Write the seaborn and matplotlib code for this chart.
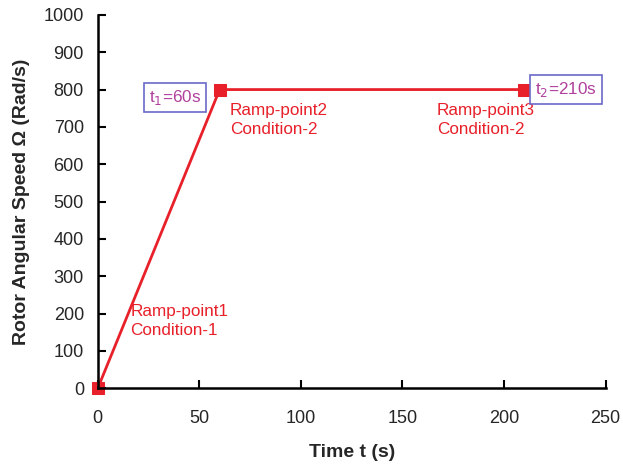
import pandas as pd
import matplotlib
matplotlib.use("Agg")
import matplotlib.pyplot as plt
import seaborn as sns

# ramp profile
time_s = [0, 60, 210]
speed = [0, 800, 800]

point_labels = ["Ramp-point1\nCondition-1", "Ramp-point2\nCondition-2", "Ramp-point3\nCondition-2"]
label_pos = [(16, 225), (65, 765), (167, 765)]
box_labels = ["t$_1$=60s", "t$_2$=210s"]
box_pos = [(38, 778), (230.5, 800)]

red = "#e8202a"

sns.set_theme(style="ticks")
plt.rcParams["font.family"] = ["Liberation Sans", "DejaVu Sans"]

df = pd.DataFrame({"t": time_s, "w": speed})

fig = plt.figure(figsize=(6.23, 4.66), dpi=100)
ax = fig.add_axes([0.157, 0.167, 0.815, 0.801])

sns.lineplot(data=df, x="t", y="w", ax=ax, color=red, linewidth=2,
             marker="s", markersize=8, markeredgecolor=red, clip_on=False)

ax.set_xlim(0, 250)
ax.set_ylim(0, 1000)
ax.set_xticks(range(0, 251, 50))
ax.set_yticks(range(0, 1001, 100))
ax.tick_params(direction="in", length=6, width=1.5, labelsize=13, color="black")
ax.tick_params(axis="x", pad=16)
ax.tick_params(axis="y", pad=10)
for s in ["top", "right"]:
    ax.spines[s].set_visible(False)
for s in ["left", "bottom"]:
    ax.spines[s].set_linewidth(1.8)
    ax.spines[s].set_color("black")

ax.set_xlabel("Time t (s)", fontsize=14, fontweight="bold", labelpad=12)
ax.set_ylabel("Rotor Angular Speed Ω (Rad/s)", fontsize=14, fontweight="bold", labelpad=10)

for txt, (x, y) in zip(point_labels, label_pos):
    ax.text(x, y, txt, color=red, fontsize=12.3, va="top", ha="left", linespacing=1.35)

for txt, (x, y) in zip(box_labels, box_pos):
    ax.text(x, y, txt, color="#b0409c", fontsize=12.3, va="center", ha="center",
            bbox=dict(boxstyle="square,pad=0.3", fc="white", ec="#6a6ac8", lw=1.2))

fig.savefig("out.png", dpi=100)
